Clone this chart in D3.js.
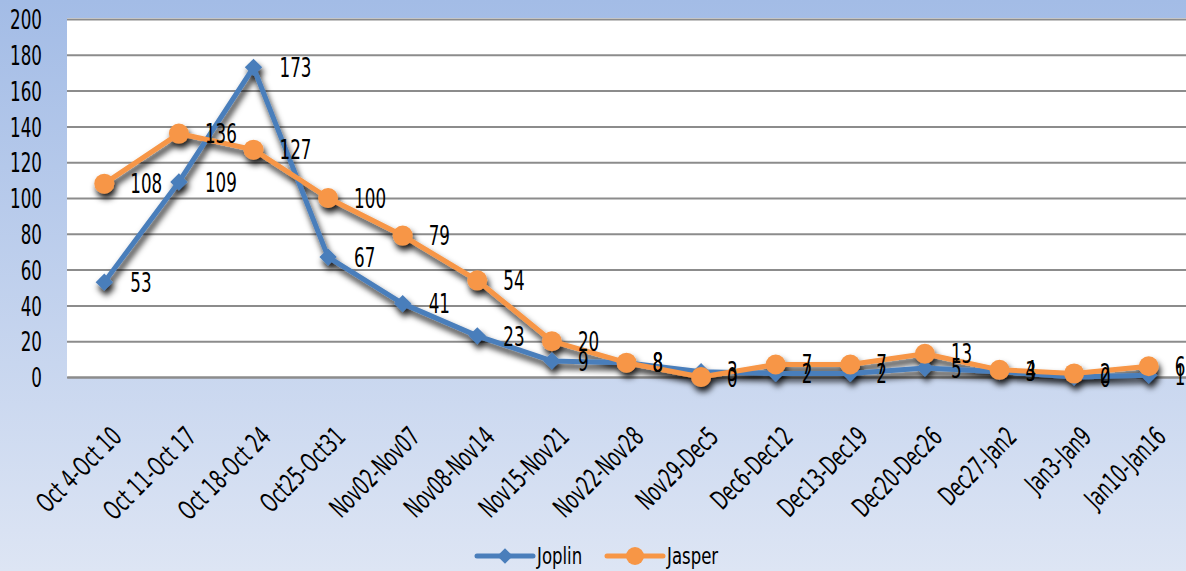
<!DOCTYPE html>
<html>
<head>
<meta charset="utf-8">
<script src="https://cdn.jsdelivr.net/npm/d3@7"></script>
<style>
  html, body { margin: 0; padding: 0; }
  svg { display: block; }
  text { font-family: "DejaVu Sans", sans-serif; fill: #000; }
</style>
</head>
<body>
<svg id="chart" width="1186" height="571"></svg>
<script>
const categories = ["Oct 4-Oct 10","Oct 11-Oct 17","Oct 18-Oct 24","Oct25-Oct31","Nov02-Nov07","Nov08-Nov14","Nov15-Nov21","Nov22-Nov28","Nov29-Dec5","Dec6-Dec12","Dec13-Dec19","Dec20-Dec26","Dec27-Jan2","Jan3-Jan9","Jan10-Jan16"];
const joplin = [53,109,173,67,41,23,9,8,3,2,2,5,3,0,1];
const jasper = [108,136,127,100,79,54,20,8,0,7,7,13,4,2,6];
const yTicks = [0,20,40,60,80,100,120,140,160,180,200];
const seriesNames = ["Joplin","Jasper"];
const seriesColors = ["#4a7ebb","#f79646"];

const W = 1186, H = 571;
const svg = d3.select("#chart");
const defs = svg.append("defs");
const grad = defs.append("linearGradient").attr("id","bg").attr("x1",0).attr("y1",0).attr("x2",0).attr("y2",1);
grad.append("stop").attr("offset","0%").attr("stop-color","#a3bce6");
grad.append("stop").attr("offset","100%").attr("stop-color","#dde5f4");
const f = defs.append("filter").attr("id","shadow").attr("x","-20%").attr("y","-20%").attr("width","140%").attr("height","140%");
f.append("feDropShadow").attr("dx",2).attr("dy",5).attr("stdDeviation",3).attr("flood-color","#000").attr("flood-opacity",0.9);

svg.append("rect").attr("width",W).attr("height",H).attr("fill","url(#bg)");

const plot = {left:67, right:1186, top:19, bottom:377};
svg.append("rect").attr("x",plot.left).attr("y",plot.top-1).attr("width",plot.right-plot.left).attr("height",plot.bottom-plot.top+1).attr("fill","#fff");

const x = d3.scalePoint().domain(categories).range([plot.left, plot.right]).padding(0.5);
const y = d3.scaleLinear().domain([0,200]).range([plot.bottom, plot.top]);

const SX = 0.62; // horizontal squeeze to imitate condensed font
const FS = 27;

// y axis with gridlines
const yAxis = svg.append("g").attr("transform",`translate(${plot.left},0)`)
  .call(d3.axisLeft(y).tickValues(yTicks).tickSize(-(plot.right-plot.left)).tickPadding(0));
yAxis.select(".domain").remove();
yAxis.selectAll(".tick line").attr("stroke","#8c8c8c").attr("stroke-width",2);
yAxis.selectAll(".tick text")
  .attr("x",null).attr("dy","0.36em")
  .attr("transform",`translate(-25,0) scale(${SX},1)`)
  .style("font-size",FS+"px").style("font-family","DejaVu Sans, sans-serif").attr("fill","#000");

// x axis
const xAxis = svg.append("g").attr("transform",`translate(0,${plot.bottom})`)
  .call(d3.axisBottom(x).tickSize(0).tickPadding(0));
xAxis.select(".domain").attr("stroke","#8c8c8c").attr("stroke-width",2);
xAxis.selectAll(".tick text")
  .attr("y",null)
  .attr("text-anchor","end")
  .attr("transform",`translate(5,48) rotate(-45) scale(${SX},1)`)
  .attr("dy","0.7em")
  .style("font-size",FS+"px").style("font-family","DejaVu Sans, sans-serif").attr("fill","#000");

const data = [joplin, jasper];
const line = d3.line().x((d,i)=>x(categories[i])).y(d=>y(d));

const gSeries = svg.append("g").attr("filter","url(#shadow)");
data.forEach((vals, si) => {
  const g = gSeries.append("g");
  g.append("path").datum(vals).attr("d",line).attr("fill","none")
    .attr("stroke",seriesColors[si]).attr("stroke-width",5).attr("stroke-linejoin","round");
  if (si === 0) {
    g.selectAll("path.m").data(vals).enter().append("path")
      .attr("d", d3.symbol().type(d3.symbolSquare).size(150))
      .attr("transform",(d,i)=>`translate(${x(categories[i])},${y(d)}) rotate(45)`)
      .attr("fill",seriesColors[si]);
  } else {
    g.selectAll("circle").data(vals).enter().append("circle")
      .attr("cx",(d,i)=>x(categories[i])).attr("cy",d=>y(d)).attr("r",10)
      .attr("fill",seriesColors[si]);
  }
});

// data labels
const gLabels = svg.append("g");
data.forEach((vals, si) => {
  gLabels.selectAll(null).data(vals).enter().append("text")
    .attr("transform",(d,i)=>`translate(${x(categories[i])+26},${y(d)}) scale(${SX},1)`)
    .attr("dy","0.36em")
    .style("font-size",FS+"px")
    .text(d=>d);
});

// legend
const legend = svg.append("g").attr("transform","translate(0,556)");
const legendX = [477, 607];
seriesNames.forEach((name, si) => {
  const g = legend.append("g").attr("transform",`translate(${legendX[si]},0)`);
  g.append("line").attr("x1",0).attr("x2",56).attr("y1",0).attr("y2",0)
    .attr("stroke",seriesColors[si]).attr("stroke-width",5).attr("stroke-linecap","round");
  if (si === 0) {
    g.append("path").attr("d", d3.symbol().type(d3.symbolSquare).size(120))
      .attr("transform","translate(28,0) rotate(45)").attr("fill",seriesColors[si]);
  } else {
    g.append("circle").attr("cx",28).attr("cy",0).attr("r",9).attr("fill",seriesColors[si]);
  }
  g.append("text").attr("transform",`translate(60,0) scale(0.72,1)`).attr("dy","0.33em")
    .style("font-size","23px").text(name);
});
</script>
</body>
</html>
